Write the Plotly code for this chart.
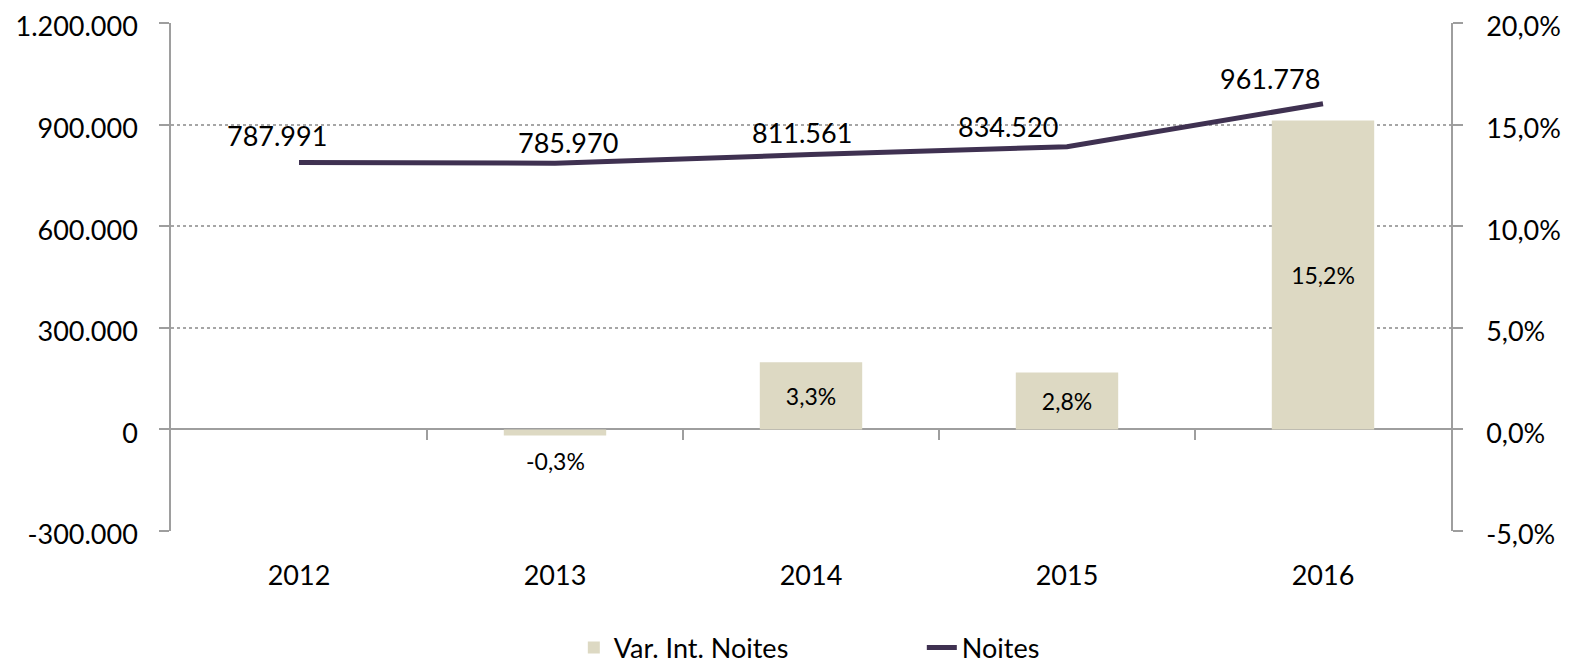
import plotly.graph_objects as go

years = ["2012", "2013", "2014", "2015", "2016"]
noites = [787991, 785970, 811561, 834520, 961778]
var_noites = [None, -0.003, 0.033, 0.028, 0.152]
noites_labels = ["787.991", "785.970", "811.561", "834.520", "961.778"]
var_labels = ["", "-0,3%", "3,3%", "2,8%", "15,2%"]

y_ticks = [-300000, 0, 300000, 600000, 900000, 1200000]
y_ticktext = ["-300.000", "0", "300.000", "600.000", "900.000", "1.200.000"]
y2_ticks = [-0.05, 0.0, 0.05, 0.10, 0.15, 0.20]
y2_ticktext = ["-5,0%", "0,0%", "5,0%", "10,0%", "15,0%", "20,0%"]

# label offsets (pixels) for the line labels
lbl_dx = [-22, 13, -9, -59, -53]
lbl_dy = [27, 21, 22, 20, 25]

x_idx = list(range(len(years)))

BAR = "#DDD9C3"
LINE = "#3F3151"
AXIS = "#9E9E9E"
GRID = "#A6A6A6"
FONT = "Lato"
FS = 27
FS_TICK = 27

inside_text = [t if (v is not None and v > 0) else "" for v, t in zip(var_noites, var_labels)]

fig = go.Figure()

fig.add_trace(go.Bar(
    x=x_idx, y=var_noites, name="Var. Int. Noites",
    marker=dict(color=BAR, line=dict(width=0)),
    width=0.4, yaxis="y2",
    text=inside_text,
    textposition="inside",
    insidetextanchor="middle",
    constraintext="none",
    textfont=dict(family=FONT, size=23, color="black"),
))

fig.add_trace(go.Scatter(
    x=x_idx, y=noites, name="Noites", mode="lines",
    line=dict(color=LINE, width=5),
    yaxis="y",
))

# helper trace for the category-boundary tick axis on the zero line
fig.add_trace(go.Scatter(
    x=[0], y=[0], xaxis="x2", yaxis="y", mode="markers",
    marker=dict(opacity=0), showlegend=False, hoverinfo="skip",
))

for i, (v, t) in enumerate(zip(noites, noites_labels)):
    fig.add_annotation(
        x=i, y=v, xref="x", yref="y", text=t, showarrow=False,
        xshift=lbl_dx[i], yshift=lbl_dy[i],
        font=dict(family=FONT, size=FS, color="black"),
    )

# labels for negative bars, below the bar end
for i, (v, t) in enumerate(zip(var_noites, var_labels)):
    if v is not None and v < 0:
        fig.add_annotation(
            x=i, y=v, xref="x", yref="y2", text=t, showarrow=False,
            yshift=-25,
            font=dict(family=FONT, size=23, color="black"),
        )

fig.update_layout(
    width=1564, height=657,
    margin=dict(l=163, r=121, t=15, b=134, autoexpand=False),
    paper_bgcolor="white", plot_bgcolor="white",
    separators=",.",
    font=dict(family=FONT, size=FS, color="black"),
    barmode="overlay",
    xaxis=dict(
        range=[-0.5, 4.5], tickvals=x_idx, ticktext=years,
        showgrid=False, zeroline=False, showline=False, ticks="",
        ticklabelstandoff=26, automargin=False,
        tickfont=dict(family=FONT, size=FS_TICK, color="black"),
    ),
    xaxis2=dict(
        range=[-0.5, 4.5], overlaying="x", anchor="free", position=0.2,
        tickvals=[0.5, 1.5, 2.5, 3.5], ticks="outside", ticklen=10,
        tickwidth=1.5, tickcolor=AXIS, showticklabels=False,
        showgrid=False, zeroline=False, showline=False, automargin=False,
    ),
    yaxis=dict(
        range=[-300000.5, 1200000.5], tickvals=y_ticks, ticktext=y_ticktext,
        showgrid=True, gridcolor=GRID, griddash="dot", gridwidth=1.5,
        zeroline=True, zerolinecolor=AXIS, zerolinewidth=1.5,
        showline=True, linecolor=AXIS, linewidth=1.5,
        ticks="outside", ticklen=10, tickwidth=1.5, tickcolor=AXIS,
        ticklabelstandoff=16, ticklabelshift=4,
        automargin=False, ticklabeloverflow="allow",
        tickfont=dict(family=FONT, size=FS_TICK, color="black"),
    ),
    yaxis2=dict(
        range=[-0.0500001, 0.2000001], tickvals=y2_ticks, ticktext=y2_ticktext,
        overlaying="y", side="right", anchor="x",
        showgrid=False, zeroline=False,
        showline=True, linecolor=AXIS, linewidth=1.5,
        ticks="outside", ticklen=10, tickwidth=1.5, tickcolor=AXIS,
        ticklabelstandoff=18, ticklabelshift=4,
        automargin=False, ticklabeloverflow="allow",
        tickfont=dict(family=FONT, size=FS_TICK, color="black"),
    ),
    legend=dict(
        orientation="h", x=0.3147, xanchor="left", y=-0.23, yanchor="middle",
        entrywidth=303, entrywidthmode="pixels",
        font=dict(family=FONT, size=FS, color="black"),
        bgcolor="rgba(0,0,0,0)",
    ),
    showlegend=True,
)

fig.write_html("out.html")
